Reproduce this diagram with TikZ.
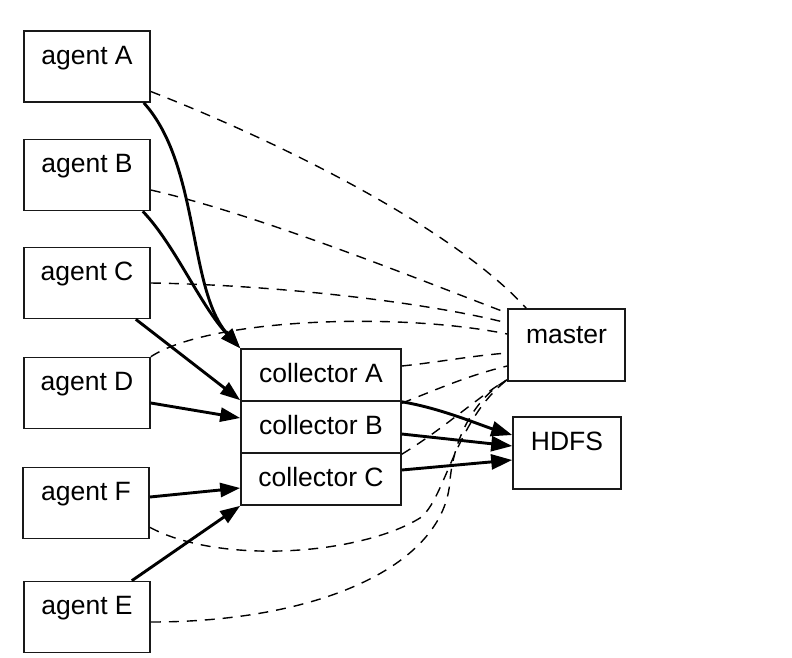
\documentclass[tikz,border=0pt]{standalone}
\usepackage{fontspec}
\setmainfont{Liberation Sans}
\usetikzlibrary{arrows.meta}
\begin{document}
\begin{tikzpicture}[x=1pt,y=-1pt,
  box/.style={draw=black!90, line width=1.6pt, inner sep=0pt, text height=33pt,
    font=\fontsize{26.5}{30}\selectfont},
  agent/.style={box, minimum width=126pt, minimum height=71pt, text depth=38pt},
  coll/.style={box, minimum width=160pt, minimum height=52pt, text depth=19pt},
  flow/.style={line width=2.9pt, -{Triangle[length=20pt,width=14pt]}},
  flowb/.style={line width=2.9pt, -{Triangle[length=21pt,width=15pt]}},
  ctl/.style={line width=1.4pt, dash pattern=on 10pt off 8pt},
]
\useasboundingbox (0,0) rectangle (792,657);
\fill[white] (0,0) rectangle (792,657);

\node[agent] (aA) at (87,66.5) {agent A};
\node[agent] (aB) at (87,175) {agent B};
\node[agent] (aC) at (87,283) {agent C};
\node[agent] (aD) at (87,393) {agent D};
\node[agent] (aF) at (86,503) {agent F};
\node[agent] (aE) at (87,617) {agent E};

\node[coll] (cA) at (321,375) {collector A};
\node[coll] (cB) at (321,427) {collector B};
\node[coll] (cC) at (321,479) {collector C};

\node[box, minimum width=117pt, minimum height=72pt, text height=34pt, text depth=38pt] (ms) at (566.5,345) {master};
\node[box, minimum width=108pt, minimum height=72pt, text depth=39pt] (hd) at (567,453) {HDFS};

% dashed control connections
\draw[ctl] ([yshift=-25pt]aA.east) .. controls (300,150) and (460,235) .. ([xshift=19pt]ms.north west);
\draw[ctl] ([yshift=-15pt]aB.east) .. controls (260,215) and (420,280) .. ([yshift=32pt]ms.west);
\draw[ctl] (aC.east) .. controls (280,285) and (430,303) .. ([yshift=22pt]ms.west);
\draw[ctl] (aD.north east) .. controls (210,318) and (400,312) .. ([yshift=11pt]ms.west);
\draw[ctl] ([yshift=9pt]cA.east) .. controls (440,362) and (470,356) .. ([yshift=-8pt]ms.west);
\draw[ctl] ([yshift=-3pt]cB.north east) .. controls (440,388) and (470,375) .. ([yshift=-21pt]ms.west);
\draw[ctl] ([yshift=-2pt]cC.north east) .. controls (445,428) and (480,395) .. ([yshift=2pt]ms.south west);
\draw[ctl] ([yshift=12pt]aF.south east) .. controls (220,565) and (360,555) .. (420,518)
  .. controls (445,500) and (455,420) .. ([yshift=2pt]ms.south west);
\draw[ctl] ([yshift=-5pt]aE.east) .. controls (320,622) and (445,565) .. (450,480)
  .. controls (455,430) and (480,395) .. ([yshift=2pt]ms.south west);

% data flows
\draw[flow] ([xshift=-7pt]aA.south east) .. controls (200,165) and (188,290) .. (cA.north west);
\draw[flow] ([xshift=-8pt]aB.south east) .. controls (175,245) and (200,305) .. (cA.north west);
\draw[flow] ([xshift=-15pt]aC.south east) -- (cB.north west);
\draw[flow] ([yshift=-10pt]aD.east) -- ([yshift=9pt]cB.west);
\draw[flow] ([yshift=6pt]aF.east) -- ([yshift=-9pt]cC.west);
\draw[flow] ([xshift=-19pt]aE.north east) -- (cC.south west);

\draw[flowb] (cA.south east) .. controls (440,408) and (480,425) .. ([yshift=18pt]hd.west);
\draw[flowb] ([yshift=-7pt]cB.east) -- ([yshift=7pt]hd.west);
\draw[flowb] ([yshift=9pt]cC.east) -- ([yshift=-7pt]hd.west);
\end{tikzpicture}
\end{document}
